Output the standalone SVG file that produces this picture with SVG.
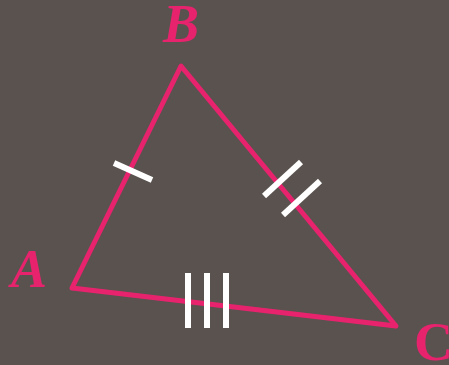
<svg xmlns="http://www.w3.org/2000/svg" width="449" height="365" viewBox="0 0 449 365">
<style>
.edge{fill:none;stroke:#e8236e;stroke-width:5;stroke-linejoin:round;stroke-linecap:round}
.tick{stroke:#ffffff;stroke-width:6;stroke-linecap:butt}
.lbl{font-family:"Liberation Serif",serif;font-weight:bold;font-size:54px;fill:#e8236e}
</style>
<rect width="449" height="365" fill="#59524e"/>
<g id="connectors">
<polygon class="edge" points="72,288 181,66 396,326"/>
<line class="tick" x1="114" y1="163" x2="152" y2="180"/>
<line class="tick" x1="264" y1="196" x2="301" y2="162"/>
<line class="tick" x1="283" y1="215" x2="320" y2="181"/>
<line class="tick" x1="188" y1="273" x2="188" y2="328"/>
<line class="tick" x1="207" y1="273" x2="207" y2="328"/>
<line class="tick" x1="226" y1="273" x2="226" y2="328"/>
</g>
<g id="A"><text class="lbl" x="11" y="287" font-style="italic">A</text></g>
<g id="B"><text class="lbl" x="163" y="42" font-style="italic">B</text></g>
<g id="C"><text class="lbl" x="414" y="360">C</text></g>
</svg>
